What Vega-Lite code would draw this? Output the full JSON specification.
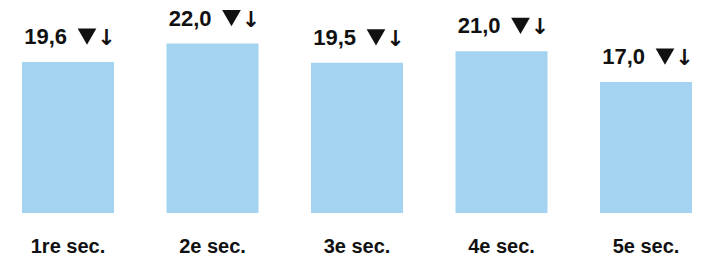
{
  "$schema": "https://vega.github.io/schema/vega-lite/v6.json",
  "autosize": {"type": "none"},
  "width": 670,
  "height": 213,
  "padding": {"left": 22, "top": 0, "right": 11, "bottom": 46},
  "background": "white",
  "config": {"view": {"stroke": null}, "font": "Liberation Sans"},
  "data": {"values": [
    {"section": "1re sec.", "value": 19.6, "label": "19,6"},
    {"section": "2e sec.", "value": 22.0, "label": "22,0"},
    {"section": "3e sec.", "value": 19.5, "label": "19,5"},
    {"section": "4e sec.", "value": 21.0, "label": "21,0"},
    {"section": "5e sec.", "value": 17.0, "label": "17,0"}
  ]},
  "encoding": {
    "x": {"field": "section", "type": "nominal", "sort": null,
      "scale": {"paddingInner": 0.3633, "paddingOuter": 0},
      "axis": {"title": null, "domain": false, "ticks": false, "labelAngle": 0, "labelFontSize": 20, "labelFontWeight": "bold", "labelColor": "#111111", "labelBaseline": "alphabetic", "labelPadding": 39, "labelFont": "Liberation Sans"}},
    "y": {"field": "value", "type": "quantitative", "scale": {"domain": [0, 27.66], "nice": false, "zero": true}, "axis": null}
  },
  "layer": [
    {"mark": {"type": "bar", "color": "#A3D3F1"}},
    {"mark": {"type": "text", "align": "right", "dx": -1, "dy": -18, "baseline": "alphabetic", "fontSize": 22, "fontWeight": "bold", "color": "#111111"},
     "encoding": {"text": {"field": "label"}}},
    {"mark": {"type": "point", "shape": "triangle-down", "size": 350, "filled": true, "opacity": 1, "color": "#111111", "xOffset": 19, "yOffset": -25.5}},
    {"mark": {"type": "text", "text": "↓", "align": "center", "dx": 38.5, "dy": -17, "baseline": "alphabetic", "font": "DejaVu Sans", "fontSize": 22, "fontWeight": "bold", "color": "#111111"}}
  ]
}
